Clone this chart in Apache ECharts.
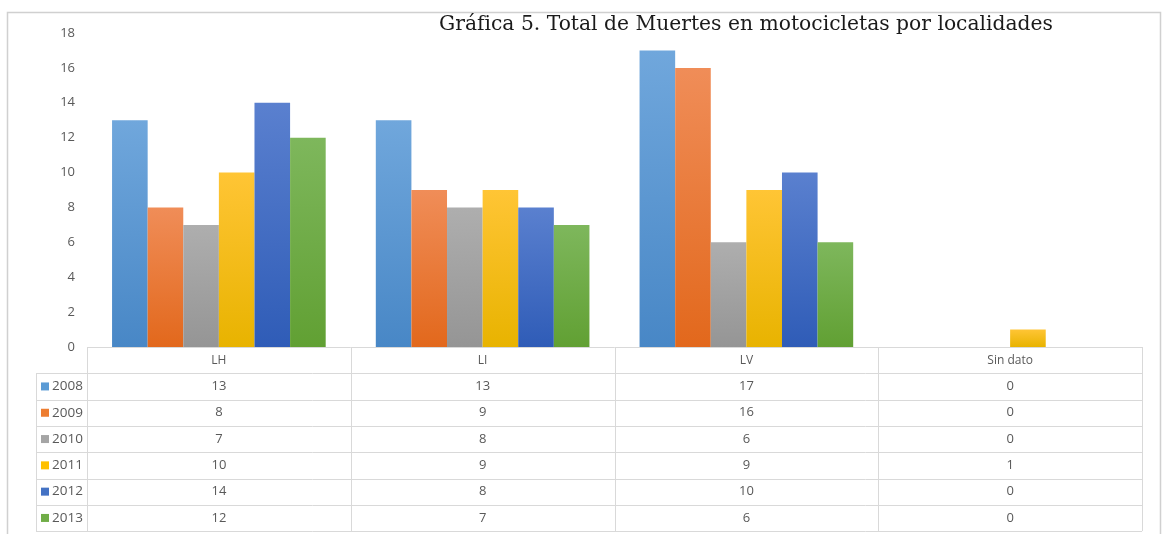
<!DOCTYPE html>
<html lang="es">
  <head>
    <meta charset="UTF-8" />
    <title>Gráfica 5</title>
    <script src="https://cdn.jsdelivr.net/npm/echarts@6/dist/echarts.min.js"></script>
  </head>
  <style>
    body,
    html {
      margin: 0;
      height: 100%;
      background: #fff;
    }
  </style>
  <body>
    <div id="chart" style="width:1162px;height:534px"></div>
  </body>
  <script>
    // datos
    var localidades = ["LH", "LI", "LV", "Sin dato"];
    var years = ["2008", "2009", "2010", "2011", "2012", "2013"];
    var v2008 = [13, 13, 17, 0];
    var v2009 = [8, 9, 16, 0];
    var v2010 = [7, 8, 6, 0];
    var v2011 = [10, 9, 9, 1];
    var v2012 = [14, 8, 10, 0];
    var v2013 = [12, 7, 6, 0];
    var yTicks = [0, 2, 4, 6, 8, 10, 12, 14, 16, 18];

    var values = [v2008, v2009, v2010, v2011, v2012, v2013];
    // colores office: [clave, arriba, abajo]
    var colors = [
      ["#5B9BD5", "#70A7DC", "#4887C6"],
      ["#ED7D31", "#F08D58", "#E2681C"],
      ["#A5A5A5", "#AEAEAE", "#959595"],
      ["#FFC000", "#FFC535", "#E8B300"],
      ["#4472C4", "#5A80CF", "#2F5CB7"],
      ["#70AD47", "#7EB75C", "#61A033"]
    ];
    var txt = "#595959";
    var lineCol = "#d9d9d9";
    var font = "Open Sans";

    var series = years.map(function(y, i) {
      return {
        name: y,
        type: "bar",
        data: values[i],
        barGap: "0%",
        barCategoryGap: "19%",
        itemStyle: {
          color: new echarts.graphic.LinearGradient(0, 0, 0, 1, [
            { offset: 0, color: colors[i][1] },
            { offset: 1, color: colors[i][2] }
          ]),
          shadowColor: "rgba(0,0,0,0.25)",
          shadowBlur: 3,
          shadowOffsetX: 1
        }
      };
    });

    var option = {
      animation: false,
      backgroundColor: "#fff",
      title: {
        text: "Gráfica 5. Total de Muertes en motocicletas por localidades",
        left: 434,
        top: 10,
        textStyle: {
          fontFamily: "DejaVu Serif",
          fontWeight: "normal",
          fontSize: 20.3,
          color: "#1a1a1a"
        }
      },
      grid: {
        left: 87,
        right: 20,
        top: 33,
        bottom: 187,
        containLabel: false
      },
      xAxis: {
        type: "category",
        data: localidades,
        axisLine: { show: false },
        axisTick: { show: false },
        axisLabel: { show: false }
      },
      yAxis: {
        type: "value",
        min: yTicks[0],
        max: yTicks[yTicks.length - 1],
        interval: 2,
        splitLine: { show: false },
        axisLine: { show: false },
        axisTick: { show: false },
        axisLabel: {
          color: txt,
          fontFamily: font,
          fontSize: 13,
          margin: 12
        }
      },
      series: series
    };

    var chart = echarts.init(document.getElementById("chart"));
    chart.setOption(option);

    // tabla de datos debajo del grafico
    function buildTable() {
      var g = [];
      var top = chart.convertToPixel({ yAxisIndex: 0 }, 0);
      var c0 = chart.convertToPixel({ xAxisIndex: 0 }, 0);
      var c1 = chart.convertToPixel({ xAxisIndex: 0 }, 1);
      var colW = c1 - c0;
      var left = c0 - colW / 2;
      var right = left + colW * localidades.length;
      var rowH = 26.3;
      var legLeft = 36;
      var bottom = top + rowH * (years.length + 1);
      var line = { stroke: lineCol, lineWidth: 1 };

      // marco exterior
      g.push({
        type: "rect",
        shape: { x: 7.5, y: 12.5, width: 1153, height: 540 },
        style: { fill: null, stroke: "#d0d0d0", lineWidth: 1.5 },
        silent: true
      });

      // lineas horizontales
      for (var r = 0; r <= years.length + 1; r++) {
        var y = Math.round(top + r * rowH) + 0.5;
        g.push({
          type: "line",
          shape: { x1: r < 1 ? left : legLeft, y1: y, x2: right, y2: y },
          style: line
        });
      }
      // lineas verticales
      for (var c = 0; c <= localidades.length; c++) {
        var x = Math.round(left + c * colW) + 0.5;
        g.push({
          type: "line",
          shape: { x1: x, y1: top, x2: x, y2: bottom },
          style: line
        });
      }
      g.push({
        type: "line",
        shape: { x1: legLeft + 0.5, y1: top + rowH, x2: legLeft + 0.5, y2: bottom },
        style: line
      });

      // encabezados
      localidades.forEach(function(l, i) {
        g.push({
          type: "text",
          x: left + colW * (i + 0.5),
          y: top + rowH / 2,
          style: {
            text: l,
            fill: txt,
            font: "12px '" + font + "'",
            align: "center",
            verticalAlign: "middle"
          }
        });
      });

      // filas
      years.forEach(function(yr, r) {
        var cy = top + rowH * (r + 1.5);
        g.push({
          type: "rect",
          shape: { x: legLeft + 5, y: cy - 4, width: 8, height: 8 },
          style: { fill: colors[r][0] }
        });
        g.push({
          type: "text",
          x: legLeft + 16,
          y: cy,
          style: {
            text: yr,
            fill: txt,
            font: "13.5px '" + font + "'",
            align: "left",
            verticalAlign: "middle"
          }
        });
        values[r].forEach(function(v, i) {
          g.push({
            type: "text",
            x: left + colW * (i + 0.5),
            y: cy,
            style: {
              text: String(v),
              fill: txt,
              font: "13px '" + font + "'",
              align: "center",
              verticalAlign: "middle"
            }
          });
        });
      });

      chart.setOption({ graphic: g });
    }
    buildTable();
  </script>
</html>
